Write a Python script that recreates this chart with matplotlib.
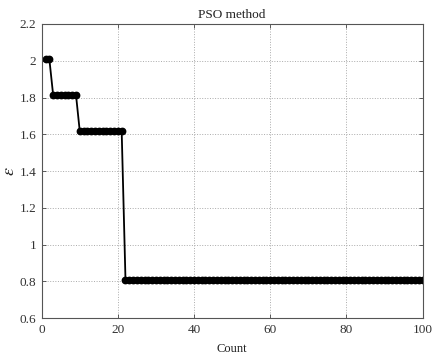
import numpy as np
import matplotlib
matplotlib.use("Agg")
import matplotlib.pyplot as plt

plt.rcParams['font.family'] = ['Liberation Serif', 'DejaVu Serif']
plt.rcParams['mathtext.fontset'] = 'stix'

# Best fitness value per iteration of the PSO run
counts = list(range(1, 101))
levels = [2.01] * 2 + [1.815] * 7 + [1.615] * 12 + [0.805] * 79

xticks = [0, 20, 40, 60, 80, 100]
yticks = [0.6, 0.8, 1.0, 1.2, 1.4, 1.6, 1.8, 2.0, 2.2]
ytick_labels = ['0.6', '0.8', '1', '1.2', '1.4', '1.6', '1.8', '2', '2.2']

fig = plt.figure(figsize=(4.33, 3.55), dpi=100)
ax = fig.add_axes([0.0963, 0.1042, 0.8797, 0.8282])

ax.plot(counts, levels, color='black', linewidth=1.3, marker='o',
        markersize=4.6, markerfacecolor='black', markeredgecolor='black')

ax.set_xlim(0, 100)
ax.set_ylim(0.6, 2.2)
ax.set_xticks(xticks)
ax.set_yticks(yticks)
ax.set_yticklabels(ytick_labels)
ax.tick_params(direction='in', length=3, labelsize=9.5, colors='#444444',
               labelcolor='#333333', width=0.6, top=True, right=True, pad=4)
ax.grid(True, linestyle=':', color='#aaaaaa', linewidth=0.7)
for s in ax.spines.values():
    s.set_color('#555555')
    s.set_linewidth(0.8)

ax.set_title('PSO method', fontsize=9.5, color='#222222', pad=4)
ax.set_xlabel('Count', fontsize=9, color='#222222', labelpad=5)
ax.set_ylabel(r'$\varepsilon$', fontsize=13, color='#222222')
ax.yaxis.set_label_coords(-0.062, 0.5)

fig.savefig('out.png', dpi=100)
